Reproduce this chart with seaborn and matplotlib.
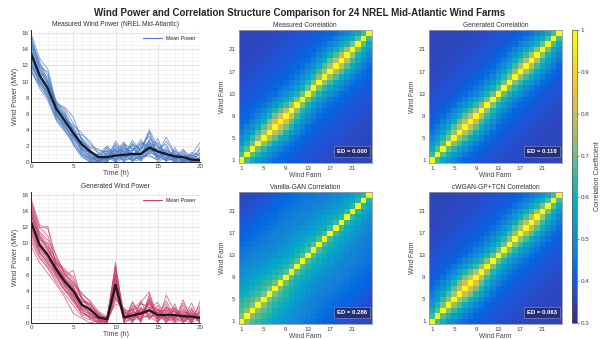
import numpy as np
import pandas as pd
import matplotlib
matplotlib.use("Agg")
import matplotlib.pyplot as plt
import seaborn as sns
from matplotlib.colors import LinearSegmentedColormap
from matplotlib.lines import Line2D
from matplotlib.ticker import MultipleLocator

# time axis and mean curves
hours = list(range(21))
measured_mean = [13.5, 10.8, 9.1, 6.6, 5.1, 3.6, 2.2, 1.3, 0.6, 0.6, 0.8, 0.9, 1.0, 1.0, 1.8, 1.3, 1.0, 0.7, 0.6, 0.3, 0.25]
generated_mean = [12.7, 9.8, 8.5, 6.7, 5.2, 4.0, 2.3, 1.7, 0.7, 0.45, 4.8, 0.7, 0.95, 1.2, 1.6, 1.0, 1.0, 1.0, 0.85, 0.8, 0.65]

# one row per wind farm
measured_farms = [
    [15.8, 12.1, 10.2, 7.0, 6.1, 4.2, 2.9, 1.5, 0.4, 1.9, 0.3, 2.2, 0.8, 1.5, 3.8, 1.2, 0.4, 1.0, 0.2, 0.0, 0.6],
    [11.2, 9.5, 8.1, 5.6, 4.3, 3.0, 1.4, 0.2, 0.0, 0.5, 1.7, 0.6, 2.4, 0.4, 1.3, 2.5, 0.8, 0.0, 1.1, 0.4, 0.0],
    [14.6, 11.8, 11.2, 6.9, 5.5, 3.1, 2.6, 1.8, 1.2, 0.2, 0.9, 2.1, 0.5, 1.7, 2.2, 0.6, 1.9, 0.3, 0.0, 0.9, 2.4],
    [12.3, 10.1, 8.6, 6.0, 4.8, 4.4, 1.9, 0.7, 0.0, 1.2, 0.0, 0.4, 1.3, 2.8, 1.0, 1.8, 0.2, 1.4, 0.5, 0.0, 0.3],
    [13.9, 11.3, 9.7, 7.4, 5.9, 3.5, 3.4, 2.6, 0.9, 0.0, 2.3, 1.0, 0.2, 0.9, 2.6, 0.4, 1.1, 0.6, 1.6, 0.2, 0.0],
    [12.0, 10.4, 9.0, 6.2, 4.0, 2.6, 1.0, 0.3, 0.5, 0.8, 0.4, 1.6, 1.9, 0.3, 1.5, 2.9, 0.5, 0.0, 0.3, 1.2, 0.8],
    [15.1, 12.6, 9.9, 5.8, 4.6, 3.9, 2.0, 1.1, 0.2, 1.5, 1.2, 0.0, 0.7, 2.0, 3.2, 1.0, 2.6, 0.9, 0.0, 0.0, 0.2],
    [11.6, 9.2, 7.6, 5.1, 3.8, 2.3, 0.8, 0.0, 0.7, 0.3, 2.6, 1.3, 1.1, 0.6, 0.9, 0.2, 1.4, 0.4, 0.8, 0.6, 1.5],
    [14.2, 11.0, 10.6, 7.1, 6.6, 4.8, 3.0, 1.9, 1.6, 0.9, 0.1, 0.9, 2.7, 1.2, 2.0, 1.5, 0.0, 1.8, 0.4, 0.1, 0.0],
    [13.1, 10.5, 8.4, 6.4, 5.2, 3.3, 1.6, 0.6, 0.0, 0.0, 1.4, 2.5, 0.3, 0.8, 1.6, 0.8, 1.2, 0.2, 0.0, 0.5, 0.9],
    [16.0, 12.9, 11.5, 7.3, 6.8, 5.6, 2.7, 1.4, 0.8, 1.7, 0.6, 0.2, 1.5, 2.3, 2.4, 0.0, 0.6, 0.7, 1.3, 0.0, 0.4],
    [11.9, 9.8, 8.8, 5.9, 4.4, 2.8, 2.3, 0.9, 0.3, 0.4, 1.9, 1.2, 0.9, 0.1, 1.2, 1.7, 2.2, 0.1, 0.6, 0.3, 0.0],
    [13.4, 10.9, 9.4, 6.7, 5.6, 4.0, 1.3, 0.4, 1.0, 2.0, 0.8, 0.5, 2.1, 1.4, 3.6, 0.7, 0.3, 1.2, 0.0, 0.8, 1.1],
    [12.7, 10.2, 8.0, 5.4, 4.2, 3.2, 2.5, 1.6, 0.0, 0.6, 0.0, 1.8, 0.6, 2.5, 1.8, 1.3, 1.6, 0.5, 0.9, 0.1, 0.2],
    [14.9, 11.6, 10.0, 7.6, 6.3, 3.7, 1.8, 0.5, 0.6, 1.1, 2.1, 0.7, 1.2, 0.2, 2.9, 2.2, 0.7, 0.8, 0.2, 0.4, 0.0],
    [12.5, 9.9, 8.3, 6.3, 4.9, 2.1, 0.6, 0.0, 0.2, 0.3, 0.5, 1.4, 0.0, 1.9, 1.4, 0.5, 0.9, 0.0, 1.4, 0.7, 0.6],
    [14.4, 11.5, 9.6, 6.8, 5.3, 4.6, 3.6, 2.2, 1.4, 1.3, 1.0, 2.3, 1.6, 1.1, 2.7, 1.1, 3.1, 1.1, 0.5, 0.0, 0.3],
    [12.1, 10.0, 8.7, 6.1, 4.5, 3.4, 1.1, 0.3, 0.4, 0.7, 1.6, 0.3, 0.4, 0.5, 1.1, 0.9, 0.1, 0.6, 0.1, 0.2, 1.8],
    [15.4, 11.9, 9.8, 7.2, 5.7, 3.8, 2.4, 1.0, 0.0, 0.2, 0.7, 1.1, 2.2, 1.6, 4.0, 1.9, 1.3, 0.3, 0.7, 0.6, 0.0],
    [12.9, 10.6, 9.3, 5.7, 4.7, 2.9, 1.5, 1.2, 0.9, 1.4, 0.2, 0.6, 0.8, 0.7, 0.7, 0.3, 0.5, 1.5, 0.3, 0.0, 0.1],
    [13.7, 11.1, 8.9, 6.5, 5.0, 3.6, 2.8, 0.8, 0.5, 0.0, 1.3, 1.5, 1.4, 2.2, 2.1, 1.4, 0.8, 0.2, 1.0, 0.3, 0.5],
    [11.4, 9.6, 7.9, 5.3, 3.9, 2.5, 0.9, 0.1, 0.2, 0.9, 0.3, 0.8, 0.1, 0.3, 1.7, 0.6, 1.5, 0.9, 0.4, 1.0, 0.2],
    [14.8, 12.3, 10.8, 6.9, 5.4, 4.1, 2.1, 1.3, 0.6, 0.5, 1.5, 0.0, 1.7, 1.0, 2.3, 2.0, 0.2, 0.4, 0.6, 0.1, 1.2],
    [13.0, 10.7, 9.5, 6.6, 5.8, 3.5, 1.7, 0.6, 0.1, 1.0, 0.9, 1.9, 0.2, 0.6, 1.9, 0.8, 1.0, 0.7, 0.2, 0.5, 0.0],
]

generated_farms = [
    [15.6, 12.3, 11.8, 8.2, 6.4, 5.1, 3.0, 2.2, 0.9, 0.3, 7.6, 0.2, 1.8, 2.6, 3.9, 0.5, 1.7, 0.3, 2.9, 0.4, 1.2],
    [10.2, 8.1, 7.0, 5.4, 4.1, 3.2, 1.0, 0.8, 0.0, 0.0, 3.1, 1.5, 0.4, 0.6, 1.0, 2.2, 0.0, 1.8, 0.2, 1.6, 0.0],
    [14.3, 11.0, 9.6, 7.9, 6.2, 4.8, 3.6, 2.8, 1.4, 0.9, 6.2, 0.0, 2.7, 1.1, 2.4, 0.9, 2.8, 0.6, 1.1, 0.0, 2.7],
    [11.5, 8.8, 7.7, 6.0, 4.4, 2.9, 1.6, 0.5, 0.2, 0.1, 4.0, 1.1, 0.3, 2.0, 0.7, 1.6, 0.4, 2.4, 0.0, 1.2, 0.3],
    [13.4, 10.6, 9.1, 7.3, 5.9, 6.6, 2.9, 1.9, 0.8, 0.6, 5.5, 0.5, 1.4, 0.2, 3.3, 0.2, 1.2, 0.8, 1.7, 0.5, 0.9],
    [12.0, 9.0, 7.4, 6.3, 4.7, 3.5, 1.9, 1.3, 0.4, 0.3, 2.4, 1.9, 0.7, 1.5, 1.2, 1.3, 0.6, 0.0, 0.5, 2.5, 0.1],
    [15.0, 11.9, 12.1, 7.0, 5.5, 4.3, 2.6, 2.5, 1.1, 0.7, 7.2, 0.3, 2.2, 0.9, 2.0, 0.0, 3.5, 1.4, 0.9, 0.2, 1.6],
    [9.6, 7.6, 6.2, 4.8, 3.2, 1.2, 0.6, 0.0, 0.3, 0.2, 3.5, 0.9, 0.0, 2.8, 0.4, 1.8, 0.3, 0.5, 1.8, 0.8, 0.4],
    [13.8, 10.2, 8.9, 7.6, 6.8, 5.4, 3.3, 1.5, 1.0, 0.5, 4.9, 1.3, 1.1, 0.4, 2.8, 0.7, 1.5, 1.9, 0.3, 1.4, 0.0],
    [12.2, 9.4, 8.0, 6.5, 5.0, 3.8, 2.0, 1.8, 0.6, 0.0, 5.8, 0.0, 0.6, 1.7, 1.5, 1.1, 0.8, 0.2, 1.3, 0.0, 1.9],
    [14.8, 11.4, 10.4, 8.5, 6.0, 4.6, 2.4, 1.1, 0.5, 0.8, 6.8, 0.6, 1.9, 0.0, 3.6, 0.4, 2.1, 0.7, 0.0, 0.9, 0.5],
    [11.0, 8.6, 7.2, 5.7, 4.2, 2.6, 1.2, 0.9, 0.1, 0.2, 2.9, 1.7, 0.2, 1.3, 0.6, 1.4, 0.0, 1.2, 0.6, 1.9, 0.2],
    [13.1, 10.0, 8.7, 6.9, 5.4, 4.1, 2.7, 2.3, 1.3, 0.4, 4.3, 0.4, 1.5, 2.3, 2.2, 0.6, 1.9, 0.4, 2.2, 0.3, 1.0],
    [12.5, 9.7, 8.3, 6.2, 4.9, 3.0, 1.5, 0.6, 0.7, 0.7, 5.2, 1.0, 0.9, 0.8, 1.8, 2.6, 0.5, 1.6, 0.1, 1.1, 0.0],
    [15.3, 12.0, 10.9, 7.4, 6.5, 5.8, 3.2, 2.0, 0.2, 0.1, 6.5, 0.2, 2.5, 1.0, 3.0, 0.3, 1.3, 0.9, 1.5, 0.6, 2.2],
    [10.6, 8.3, 6.8, 5.1, 3.6, 2.2, 0.8, 0.4, 0.0, 0.3, 3.8, 1.4, 0.1, 1.9, 0.9, 1.0, 0.2, 2.0, 0.4, 0.0, 0.6],
    [13.9, 10.8, 9.4, 7.1, 5.7, 4.5, 2.2, 1.6, 1.2, 0.6, 5.9, 0.8, 1.2, 0.5, 2.6, 1.2, 2.4, 0.1, 1.0, 1.7, 0.3],
    [11.8, 9.2, 7.9, 6.6, 4.6, 3.3, 1.7, 1.0, 0.4, 0.0, 4.5, 0.1, 0.8, 1.6, 1.1, 0.5, 0.9, 1.1, 0.7, 0.4, 1.4],
    [14.5, 11.2, 10.0, 7.8, 6.1, 5.0, 3.8, 2.6, 0.6, 0.5, 7.0, 1.2, 1.7, 0.3, 2.9, 1.5, 1.6, 0.5, 2.5, 0.7, 0.8],
    [12.8, 9.9, 8.4, 6.4, 5.1, 3.6, 2.1, 1.2, 0.9, 0.2, 4.1, 0.5, 1.0, 1.2, 1.4, 0.8, 1.0, 1.5, 0.3, 1.0, 0.1],
    [13.6, 10.4, 9.9, 6.8, 5.3, 4.2, 2.5, 1.4, 0.3, 0.8, 5.4, 0.7, 0.5, 2.5, 1.9, 1.7, 0.6, 0.8, 1.2, 0.2, 1.3],
    [11.3, 8.9, 7.5, 5.9, 4.0, 2.8, 1.3, 0.7, 0.5, 0.1, 3.3, 1.6, 1.6, 0.7, 0.8, 0.1, 1.4, 0.3, 0.6, 1.3, 0.0],
    [14.1, 10.9, 9.2, 7.5, 5.6, 4.4, 3.1, 2.4, 1.0, 0.4, 6.0, 0.3, 1.3, 1.4, 2.5, 1.0, 2.0, 1.3, 0.9, 0.6, 0.7],
    [12.4, 9.5, 8.2, 6.1, 4.8, 3.4, 1.8, 1.0, 0.6, 0.6, 4.6, 0.9, 0.7, 0.9, 1.6, 1.3, 0.7, 0.6, 1.4, 0.9, 0.5],
]

# correlation structure: value by farm distance (lag), extra strength by position
# along the diagonal, and how that extra fades with lag
farm_ticks = [1, 5, 9, 13, 17, 21]
measured_lag = [1.0, 0.66, 0.58, 0.52, 0.48, 0.45, 0.43, 0.42, 0.41, 0.40, 0.395, 0.39,
                0.385, 0.38, 0.375, 0.37, 0.37, 0.365, 0.365, 0.36, 0.36, 0.36, 0.36, 0.36]
measured_boost = [0.0, 0.02, 0.04, 0.07, 0.10, 0.13, 0.16, 0.16, 0.13, 0.09, 0.06, 0.04,
                  0.04, 0.05, 0.07, 0.09, 0.11, 0.13, 0.12, 0.09, 0.05, 0.02, 0.0, 0.0]
generated_lag = [1.0, 0.65, 0.57, 0.51, 0.47, 0.44, 0.42, 0.41, 0.40, 0.39, 0.385, 0.38,
                 0.375, 0.37, 0.37, 0.365, 0.365, 0.36, 0.36, 0.36, 0.355, 0.355, 0.355, 0.355]
generated_boost = [0.0, 0.02, 0.04, 0.07, 0.10, 0.13, 0.15, 0.15, 0.12, 0.09, 0.06, 0.05,
                   0.04, 0.05, 0.07, 0.09, 0.11, 0.12, 0.11, 0.08, 0.05, 0.02, 0.01, 0.0]
vanilla_lag = [1.0, 0.67, 0.62, 0.59, 0.56, 0.54, 0.52, 0.50, 0.49, 0.48, 0.47, 0.46,
               0.45, 0.44, 0.43, 0.42, 0.41, 0.40, 0.39, 0.38, 0.375, 0.37, 0.365, 0.36]
vanilla_boost = [0.05, 0.05, 0.05, 0.05, 0.04, 0.04, 0.03, 0.02, 0.01, 0.0, 0.0, 0.0,
                 0.0, 0.0, -0.01, -0.01, -0.02, -0.02, -0.03, -0.03, -0.04, -0.04, -0.04, -0.04]
cwgan_lag = [1.0, 0.66, 0.58, 0.52, 0.48, 0.45, 0.43, 0.415, 0.405, 0.40, 0.39, 0.385,
             0.38, 0.375, 0.37, 0.37, 0.365, 0.365, 0.36, 0.36, 0.36, 0.36, 0.36, 0.36]
cwgan_boost = [0.0, 0.02, 0.05, 0.08, 0.11, 0.14, 0.16, 0.16, 0.13, 0.09, 0.06, 0.04,
               0.04, 0.05, 0.07, 0.09, 0.11, 0.13, 0.12, 0.09, 0.05, 0.02, 0.0, 0.0]
narrow_fade = [0, 1, 0.8, 0.6, 0.4, 0.25, 0.12, 0.05, 0, 0, 0, 0,
               0, 0, 0, 0, 0, 0, 0, 0, 0, 0, 0, 0]
wide_fade = [0, 1, 1, 1, 1, 0.9, 0.8, 0.7, 0.6, 0.5, 0.4, 0.3,
             0.2, 0.1, 0, 0, 0, 0, 0, 0, 0, 0, 0, 0]

corr_titles = ["Measured Correlation", "Generated Correlation",
               "Vanilla-GAN Correlation", "cWGAN-GP+TCN Correlation"]
ed_values = ["0.000", "0.118", "0.286", "0.063"]

# parula-like colormap
parula = LinearSegmentedColormap.from_list("parula", [
    (0.2081, 0.1663, 0.5292), (0.2081, 0.2386, 0.6771), (0.1253, 0.3242, 0.8303),
    (0.0060, 0.4086, 0.8828), (0.0723, 0.4887, 0.8467), (0.0641, 0.5570, 0.8240),
    (0.0239, 0.6287, 0.8038), (0.0384, 0.6743, 0.7436), (0.1453, 0.7098, 0.6646),
    (0.3022, 0.7376, 0.5712), (0.4871, 0.7491, 0.4840), (0.6473, 0.7456, 0.4188),
    (0.7858, 0.7356, 0.3633), (0.9139, 0.7258, 0.3063), (0.9990, 0.7653, 0.2164),
    (0.9697, 0.8481, 0.1475), (0.9661, 0.9514, 0.0755), (0.9763, 0.9831, 0.0538)])


def corr_table(lag, boost, fade):
    n = len(lag)
    m = np.empty((n, n))
    for i in range(n):
        for j in range(n):
            d = abs(i - j)
            m[i, j] = lag[d] + boost[(i + j) // 2] * fade[d]
    return pd.DataFrame(m, index=range(1, n + 1), columns=range(1, n + 1))


def long_form(farms):
    rows = []
    for k, vals in enumerate(farms):
        for t, v in zip(hours, vals):
            rows.append({"farm": k, "hour": t, "power": v})
    return pd.DataFrame(rows)


sns.set_style("white")
plt.rcParams["font.family"] = ["Liberation Sans", "DejaVu Sans"]
txt = "#404040"

fig = plt.figure(figsize=(6, 3.4), dpi=100)
fig.suptitle("Wind Power and Correlation Structure Comparison for 24 NREL Mid-Atlantic Wind Farms",
             fontsize=7, fontweight="bold", y=0.977, color="#262626")

# line panels
line_specs = [
    ([0.0517, 0.5235, 0.2817, 0.388], measured_farms, measured_mean, "#4a7cc8",
     "Measured Wind Power (NREL Mid-Atlantic)"),
    ([0.0517, 0.050, 0.2817, 0.385], generated_farms, generated_mean, "#c8416e",
     "Generated Wind Power"),
]
for rect, farms, mean, col, title in line_specs:
    ax = fig.add_axes(rect)
    df = long_form(farms)
    sns.lineplot(data=df, x="hour", y="power", units="farm", estimator=None,
                 color=col, lw=0.6, alpha=0.75, ax=ax)
    sns.lineplot(x=hours, y=mean, color="#1a1a1a", lw=1.6, ax=ax)
    ax.set_xlim(0, 20)
    ax.set_ylim(0, 16.4)
    ax.xaxis.set_major_locator(MultipleLocator(5))
    ax.yaxis.set_major_locator(MultipleLocator(2))
    ax.xaxis.set_minor_locator(MultipleLocator(1))
    ax.yaxis.set_minor_locator(MultipleLocator(0.5))
    ax.grid(which="major", color="#d9d9d9", lw=0.5)
    ax.grid(which="minor", color="#eeeeee", lw=0.4)
    ax.set_axisbelow(True)
    for s in ["top", "right"]:
        ax.spines[s].set_visible(False)
    for s in ["left", "bottom"]:
        ax.spines[s].set_color("#262626")
        ax.spines[s].set_linewidth(0.7)
    ax.tick_params(labelsize=4.5, colors=txt, length=2, width=0.5, pad=1.5, direction="in")
    ax.tick_params(which="minor", length=0)
    ax.set_xlabel("Time (h)", fontsize=5, color=txt, labelpad=1)
    ax.set_ylabel("Wind Power (MW)", fontsize=5, color=txt, labelpad=2)
    ax.set_title(title, fontsize=4.8, color="#333333", pad=3)
    leg = ax.legend([Line2D([0], [0], color=col, lw=0.8)], ["Mean Power"],
                    loc="upper right", fontsize=3.8, frameon=True, handlelength=3.5,
                    borderpad=0.4, bbox_to_anchor=(1.0, 0.99))
    leg.get_frame().set_facecolor("white")
    leg.get_frame().set_edgecolor("white")

# heatmap panels
tables = [
    corr_table(measured_lag, measured_boost, narrow_fade),
    corr_table(generated_lag, generated_boost, narrow_fade),
    corr_table(vanilla_lag, vanilla_boost, wide_fade),
    corr_table(cwgan_lag, cwgan_boost, narrow_fade),
]
heat_rects = [
    [0.398, 0.5206, 0.2217, 0.391],
    [0.715, 0.5206, 0.2217, 0.391],
    [0.398, 0.047, 0.2217, 0.388],
    [0.715, 0.047, 0.2217, 0.388],
]
mesh = None
for rect, table, title, ed in zip(heat_rects, tables, corr_titles, ed_values):
    ax = fig.add_axes(rect)
    sns.heatmap(table, ax=ax, cmap=parula, vmin=0.3, vmax=1.0, cbar=False,
                xticklabels=False, yticklabels=False)
    mesh = ax.collections[0]
    ax.invert_yaxis()
    ax.set_xticks([k - 0.5 for k in farm_ticks])
    ax.set_xticklabels(farm_ticks)
    ax.set_yticks([k - 0.5 for k in farm_ticks])
    ax.set_yticklabels(farm_ticks, rotation=0)
    for s in ax.spines.values():
        s.set_visible(True)
        s.set_color("#9a9a9a")
        s.set_linewidth(0.6)
    ax.tick_params(labelsize=4.5, colors=txt, length=1.5, width=0.4, pad=1)
    ax.set_xlabel("Wind Farm", fontsize=4.8, color=txt, labelpad=0.5)
    ax.set_ylabel("Wind Farm", fontsize=4.8, color=txt, labelpad=2)
    ax.set_title(title, fontsize=4.8, color="#333333", pad=2.5)
    ax.text(0.85, 0.085, f"ED = {ed}", transform=ax.transAxes, ha="center", va="center",
            fontsize=4.3, color="white", fontweight="bold",
            bbox=dict(boxstyle="square,pad=0.5", facecolor="#26307a", edgecolor="#8f95c8", lw=0.4))

cax = fig.add_axes([0.953, 0.05, 0.0083, 0.862])
cb = fig.colorbar(mesh, cax=cax, ticks=[0.3, 0.4, 0.5, 0.6, 0.7, 0.8, 0.9, 1.0])
cb.ax.set_yticklabels(["0.3", "0.4", "0.5", "0.6", "0.7", "0.8", "0.9", "1"])
cb.ax.tick_params(labelsize=4.5, colors=txt, length=1.5, width=0.4, pad=1.5)
cb.outline.set_edgecolor("#555555")
cb.outline.set_linewidth(0.5)
cb.set_label("Correlation Coefficient", fontsize=5, color=txt, labelpad=3)

fig.savefig("out.png", dpi=100)
